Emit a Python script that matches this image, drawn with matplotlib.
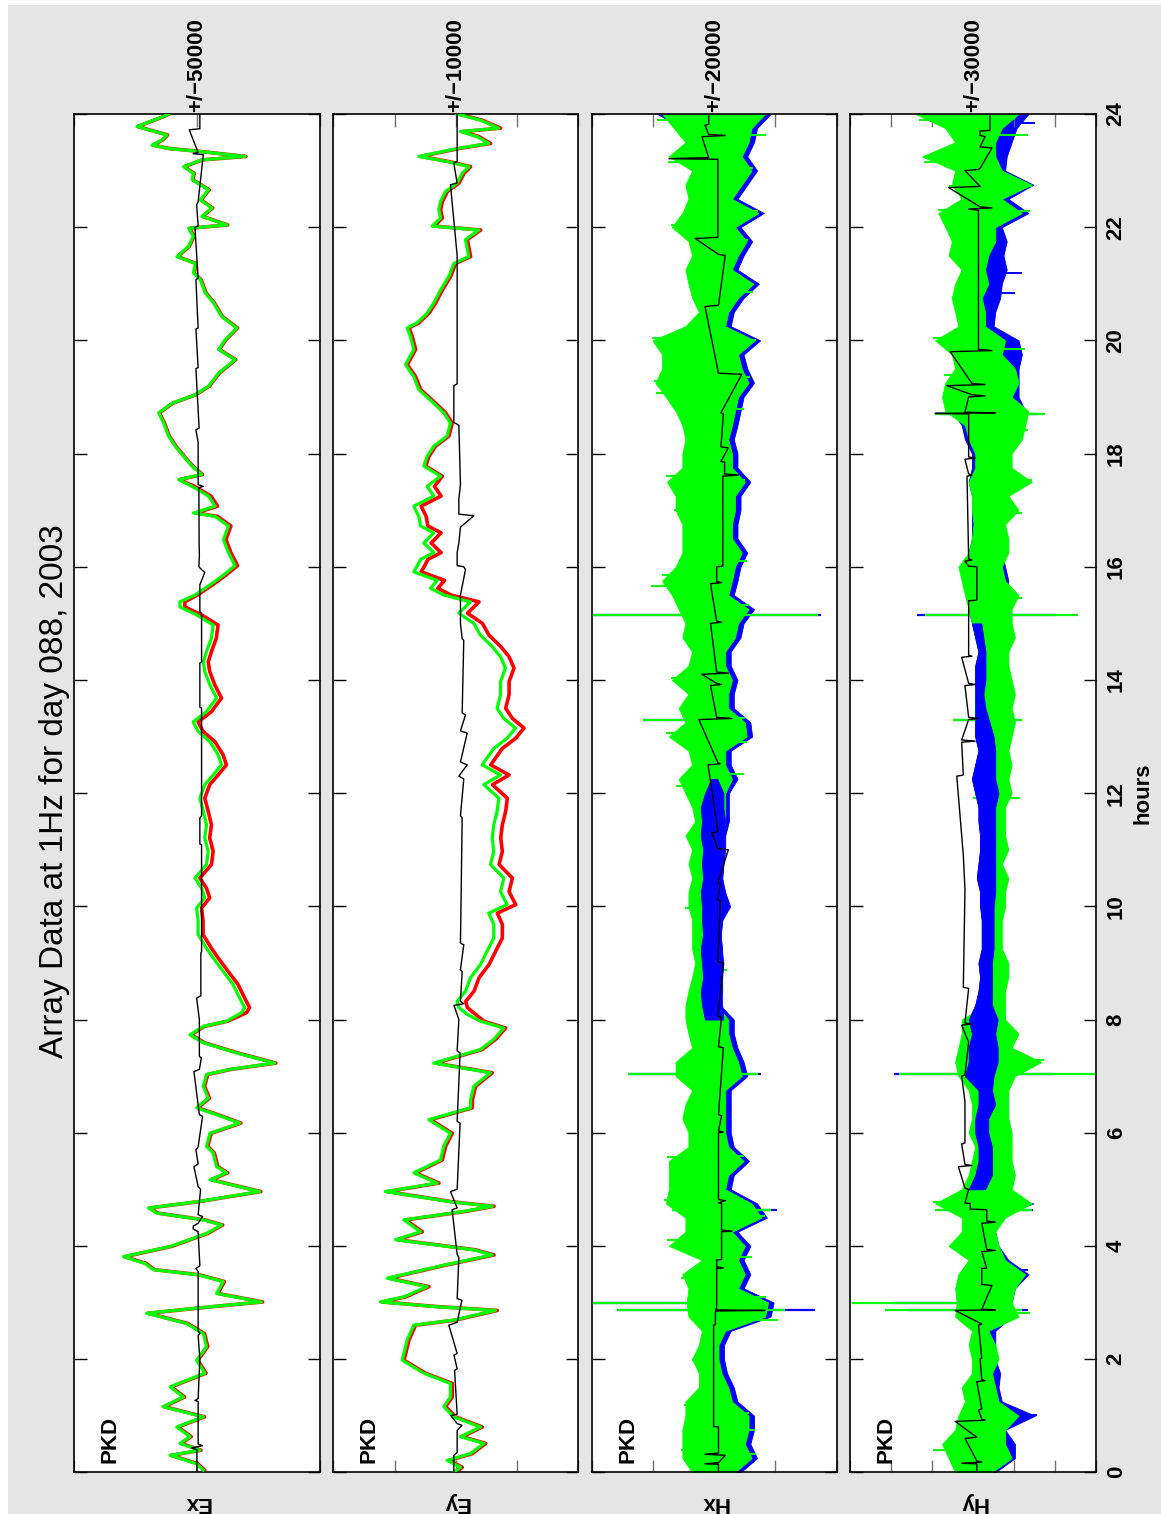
import numpy as np
import matplotlib
matplotlib.use("Agg")
import matplotlib.pyplot as plt
from matplotlib.patches import Rectangle

plt.rcParams["font.family"] = ["Liberation Sans", "DejaVu Sans"]

W, H = 1161, 1514

# ---------------- Ex (red / green traces, black reference) ----------------
ex_hours = [0.04, 0.15, 0.3, 0.39, 0.51, 0.63, 0.8, 0.98, 1.16, 1.33, 1.51, 1.75, 1.98, 2.22,
            2.45, 2.63, 2.81, 2.93, 3.01, 3.16, 3.37, 3.49, 3.58, 3.69, 3.81, 3.99, 4.22, 4.37,
            4.46, 4.58, 4.67, 4.78, 4.96, 5.17, 5.29, 5.4, 5.64, 5.76, 5.99, 6.17, 6.32, 6.44,
            6.61, 6.82, 7.03, 7.12, 7.23, 7.41, 7.59, 7.73, 7.88, 7.97, 8.12, 8.21, 8.38, 8.62,
            8.85, 9.09, 9.26, 9.5, 9.74, 9.97, 10.15, 10.32, 10.5, 10.74, 10.97, 11.21, 11.44,
            11.68, 11.91, 12.15, 12.32, 12.5, 12.68, 12.91, 13.09, 13.26, 13.44, 13.68, 13.91,
            14.15, 14.32, 14.5, 14.74, 14.97, 15.15, 15.29, 15.38, 15.5, 15.68, 15.85, 16.02,
            16.25, 16.48, 16.72, 16.89, 16.95, 17.07, 17.25, 17.42, 17.54, 17.63, 17.78, 17.95,
            18.13, 18.31, 18.54, 18.72, 18.89, 19.04, 19.19, 19.42, 19.66, 19.84, 20.01, 20.22,
            20.42, 20.66, 20.84, 21.07, 21.19, 21.36, 21.48, 21.66, 21.84, 21.98, 22.04, 22.19,
            22.34, 22.48, 22.66, 22.84, 22.95, 23.07, 23.19, 23.25, 23.34, 23.39, 23.45, 23.54,
            23.63, 23.72, 23.78, 23.95, 24.0]
ex_green = [-2600, 100, 10900, -1200, 6900, 2800, 8200, -2600, 13800, 5500, 10900, -3200, 100, -3900,
            -2600, 4200, 20400, -6600, -26200, -8000, -10700, -500, 17700, 21100, 29800, 10900, -3900, -10000,
            -2600, 16300, 19700, 100, -25500, -5300, -12000, -8000, -6600, -3900, -5300, -17400, -8000, 100,
            -4600, -2600, -3900, -13400, -31600, -16100, -2600, 2800, -2600, -12000, -18100, -19400, -17400, -14700,
            -10700, -6600, -3900, -500, -500, 100, -3200, -1900, 800, -3900, -4600, -3200, -3900,
            -2600, -1200, -3200, -6600, -10000, -8600, -5300, -500, 1500, -3900, -8000, -5300,
            -3200, -2600, -3900, -5900, -6600, 100, 6900, 6900, 800, -5300, -10700, -15500,
            -12800, -10800, -12800, -7400, 1400, -7400, -4700, 2000, 7400, -2000, 2000, 5400,
            8800, 11500, 13500, 15500, 10100, 700, -4700, -8800, -15500, -8800, -11500, -16200,
            -10100, -6800, -3400, -1400, 1400, 700, 8100, 3400, 1400, 3400, -12200, -2000,
            -6100, -1400, -4700, 2000, 1400, 5400, -2000, -19600, -700, 11500, 18200, 14200,
            12200, 19600, 24300, 14000, 11500]
ex_red = [-3100, -400, 10400, -1700, 6400, 2300, 7700, -3100, 13300, 5000, 10400, -3700, -400, -4400,
          -3100, 3700, 19900, -7100, -26700, -8500, -11200, -1000, 17200, 20600, 29300, 10400, -4400, -10500,
          -3100, 15800, 19200, -400, -26000, -5800, -12500, -8500, -7100, -4400, -5800, -17900, -8500, -400,
          -5100, -3100, -4400, -13900, -32100, -16600, -3100, 2300, -3100, -12500, -20100, -21400, -19400, -16700,
          -12700, -8600, -5900, -2500, -2500, -1900, -5200, -3900, -1200, -5900, -6600, -5200, -5900,
          -4600, -3200, -5200, -8600, -12000, -10600, -7300, -2500, -500, -5900, -10000, -7300,
          -5200, -4600, -5900, -7900, -8600, -1900, 4900, 4900, -200, -6300, -11700, -16500,
          -13800, -11800, -13800, -8400, 400, -8400, -5700, 1000, 7100, -2300, 1700, 5100,
          8500, 11200, 13200, 15200, 9800, 400, -5000, -9100, -15800, -9100, -11800, -16500,
          -10400, -7100, -3700, -1700, 1100, 400, 7800, 3100, 1100, 3100, -12500, -2300,
          -6400, -1700, -5000, 1700, 1100, 5100, -2300, -19900, -1000, 11200, 17900, 13900,
          11900, 19300, 24000, 13700, 11200]
ex_black_hours = [0.0, 0.4, 0.43, 0.47, 0.5, 1.25, 1.27, 1.3, 2.0, 2.42, 2.45, 2.5, 3.55, 3.6, 3.65,
                  4.25, 4.3, 4.35, 4.4, 4.52, 4.55, 5.0, 5.05, 5.4, 5.45, 5.7, 5.75, 6.29, 6.32,
                  7.08, 7.12, 7.32, 7.35, 8.0, 8.38, 8.42, 9.18, 9.2, 11.09, 11.1, 11.56, 11.6,
                  13.5, 13.52, 14.3, 14.32, 15.18, 15.2, 15.68, 15.9, 15.95, 16.0, 16.2, 16.42,
                  17.4, 17.42, 17.45, 18.2, 18.42, 18.45, 19.5, 19.52, 20.2, 20.22, 21.07, 21.1,
                  22.0, 22.02, 22.4, 22.45, 23.28, 23.3, 23.32, 23.72, 23.74, 24.0]
ex_black = [0, 0, 2200, -2300, -500, -500, 800, -500, -1200, -500, -1200, -500, -500, 400, -1200,
            -500, 1500, 1500, -500, -2300, -500, -1500, -500, 1200, -500, 400, -500, -2300, -1000,
            1200, -1000, -1800, -1000, -1000, 100, -1600, -1600, -1900, -1900, -1200, -1200, -1900,
            -1900, -1200, -1200, -1900, -1900, -1200, -1200, -3200, -1900, -800, -1000, -900,
            -800, -2600, -500, -500, 400, -900, 400, -500, 400, -500, 400, -500,
            800, -500, 100, -500, -2600, 1500, -500, 3100, -1200, -1200]

# ---------------- Ey ----------------
ey_hours = [0.0, 0.09, 0.21, 0.33, 0.51, 0.63, 0.8, 0.98, 1.16, 1.33, 1.57, 1.75, 1.98, 2.1, 2.34,
            2.6, 2.69, 2.86, 2.93, 3.01, 3.1, 3.28, 3.43, 3.66, 3.84, 3.93, 4.11, 4.25, 4.46, 4.61,
            4.7, 4.78, 4.96, 5.11, 5.29, 5.52, 5.76, 5.99, 6.23, 6.44, 6.58, 6.82, 7.06, 7.23, 7.47,
            7.65, 7.85, 7.97, 8.09, 8.21, 8.32, 8.5, 8.74, 8.97, 9.21, 9.44, 9.68, 9.88, 10.03,
            10.26, 10.5, 10.74, 10.97, 11.21, 11.44, 11.68, 11.91, 12.15, 12.32, 12.5, 12.79,
            12.97, 13.15, 13.32, 13.5, 13.74, 13.97, 14.21, 14.41, 14.59, 14.79, 15.0, 15.18,
            15.38, 15.5, 15.62, 15.76, 15.91, 16.01, 16.13, 16.25, 16.42, 16.6, 16.72, 16.89,
            17.07, 17.25, 17.42, 17.6, 17.78, 17.95, 18.13, 18.31, 18.54, 18.72, 18.89, 19.13,
            19.36, 19.57, 19.84, 20.07, 20.22, 20.31, 20.48, 20.66, 20.89, 21.13, 21.36, 21.48,
            21.78, 21.95, 22.02, 22.16, 22.31, 22.45, 22.63, 22.78, 22.95, 23.07, 23.16, 23.25,
            23.39, 23.48, 23.6, 23.69, 23.75, 23.89, 24.0]
ey_green = [160, -380, 710, -1200, -2290, -380, -2010, 160, 980, 440, 440, 2610, 4380, 4240, 3970,
            3430, 160, -3240, 1800, 6150, 4240, 2340, 5600, 980, -2970, -1470, 4920, 2880, 4240, -650,
            -2970, 440, 5740, 1520, 3430, 1250, 980, 440, 2200, -1200, -1200, -1470, -2830, 1800, -2010,
            -3100, -3920, -2010, -930, -250, -110, -790, -1200, -2010, -2560, -3100, -3100, -2690, -4190,
            -3650, -3920, -2830, -3100, -2970, -3100, -3370, -3510, -2290, -3650, -2150, -3100,
            -4190, -4870, -3920, -3370, -3650, -3650, -4050, -3650, -2970, -2010, -1470, -250,
            -1200, 980, 2070, 1520, 3430, 3160, 2880, 1800, 2610, 1800, 2880, 3020,
            3430, 1800, 2340, 1250, 2610, 2340, 1800, 710, 440, 980, 1800, 3020,
            3430, 4110, 3430, 3700, 3970, 3160, 2340, 1800, 1250, 570, 160, -1060,
            -790, -1880, 1930, 1250, 1390, 1250, 840, -110, -520, -1060, 710, 3020,
            -110, -2690, -1740, -380, -3510, -2010, -110]
ey_red = [10, -530, 560, -1350, -2440, -530, -2160, 10, 830, 290, 290, 2460, 4230, 4090, 3820,
          3280, 10, -3390, 1650, 6000, 4090, 2190, 5450, 830, -3120, -1620, 4770, 2730, 4090, -800,
          -3120, 290, 5590, 1370, 3280, 1100, 830, 290, 2050, -1350, -1350, -1620, -2980, 1650, -2160,
          -3250, -4070, -2300, -1630, -950, -810, -1490, -1900, -2710, -3260, -3800, -3800, -3390, -4890,
          -4350, -4620, -3530, -3800, -3670, -3800, -4070, -4210, -2990, -4350, -2850, -3800,
          -4890, -5570, -4620, -4070, -4350, -4350, -4750, -4350, -3670, -2710, -2170, -950,
          -1900, 380, 1470, 920, 2830, 2560, 2280, 1200, 2010, 1200, 2280, 2420,
          2830, 1200, 1740, 1100, 2460, 2190, 1650, 560, 290, 830, 1650, 2870,
          3280, 3960, 3280, 3550, 3820, 3010, 2190, 1650, 1100, 420, 10, -1210,
          -940, -2030, 1780, 1100, 1240, 1100, 690, -260, -670, -1210, 560, 2870,
          -260, -2840, -1890, -530, -3660, -2160, -260]
ey_black_hours = [0.0, 0.3, 0.35, 0.74, 0.83, 0.86, 1.0, 1.03, 1.8, 1.83, 2.07, 2.1, 2.6, 2.65,
                  3.04, 3.07, 3.8, 3.85, 4.64, 4.67, 4.96, 5.0, 6.17, 6.2, 7.41, 7.45, 8.0, 8.25,
                  8.28, 8.32, 8.85, 8.88, 9.32, 9.35, 11.56, 11.6, 12.25, 12.3, 12.5, 12.55, 13.06,
                  13.1, 13.38, 13.42, 14.7, 14.73, 15.0, 15.5, 15.95, 16.0, 16.02, 16.25, 16.42,
                  16.7, 16.9, 16.93, 17.2, 17.45, 18.5, 18.55, 19.2, 19.23, 21.5, 22.75, 22.78,
                  23.13, 23.16, 24.0]
ey_black = [160, 160, -110, -110, -500, -110, 400, -110, 100, -110, 150, -110, 570, -110,
            -500, -110, -250, -110, 300, -110, 435, -110, -350, -110, -350, -110, -250, 150,
            -650, -380, -520, -380, -650, -380, -520, -380, -650, -250, -930, -380, -930,
            -380, -790, -520, -650, -520, -380, -380, -790, -650, -110, -110, -250,
            -380, -1470, -250, -250, -380, -250, 160, 160, -110, -110, 435, -110,
            160, -110, -110]

# ---------------- Hx / Hy (noisy bands: green over blue, black reference) ----------------
h_hours = np.arange(0, 24.01, 0.25)

hx_green_max = [3600, 5200, 5200, 5200, 4700, 4700, 2500, 2500, 3600, 2500, 2000, 4200,   # 0-2.75
                4500, 4200, 5200, 2000, 7400, 4700, 4700, 7900, 7400, 7400, 7400, 4200,   # 3-5.75
                4200, 5200, 4700, 3600, 6300, 6300, 3600, 4200, 4700, 4700, 4200, 3600,   # 6-8.75
                3100, 3600, 3600, 3600, 4200, 4200, 3600, 4200, 3600, 4700, 3100, 3600,   # 9-11.75
                4700, 5800, 3600, 4200, 7400, 4700, 5800, 4200, 6900, 4200, 3600, 5200,   # 12-14.75
                4700, 5800, 6900, 8500, 6300, 5200, 5200, 5200, 6300, 6300, 7700, 5200,   # 15-17.75
                5200, 4700, 5200, 6300, 7900, 9600, 8500, 8500, 10100, 4700, 2500, 3600,  # 18-20.75
                4200, 4700, 3600, 4200, 6900, 5200, 4200, 4700, 3600, 7400, 4700, 6600,   # 21-23.75
                8500]
hx_green_min = [-3400, -6100, -5000, -5600, -5600, -2900, -2300, -1200, -700, -700, -1800, -8300,
                -8800, -3900, -5000, -3900, -5000, -2900, -7700, -6100, -1800, -2300, -4800, -2300,
                -1800, -1800, -1800, -1800, -4500, -3900, -2900, -2300, -2300, -400, -700, -700,
                -700, -700, -400, -700, -700, -1200, -700, -700, -1200, -1200, -1800, -1800,
                -1800, -2900, -1800, -1800, -5300, -5000, -2300, -2300, -2900, -1800, -1800, -3400,
                -3900, -5600, -2300, -2900, -3400, -4500, -2900, -2900, -3400, -3400, -5000, -2900,
                -2900, -2300, -2900, -3400, -3900, -5600, -4500, -3900, -6600, -1800, -2300, -3900,
                -6400, -2900, -3900, -5300, -3400, -7200, -2900, -4500, -6100, -4500, -5600, -6100,
                -8300]
hx_blue_max = [2100, 3700, 3700, 3700, 3200, 3200, 1000, 1000, 2100, 1000, 500, 2700,
               3000, 2700, 3700, 500, 5900, 3200, 3200, 6400, 5900, 5900, 5900, 2700,
               2700, 3700, 3200, 2100, 4800, 4800, 2100, 2700, 3200, 2000, 2200, 1800,
               2000, 2200, 1800, 2000, 2000, 2200, 1800, 2000, 1800, 2200, 2000, 2200,
               2500, 4300, 2100, 2700, 5900, 3200, 4300, 2700, 5400, 2700, 2100, 3700,
               3200, 4300, 5400, 7000, 4800, 3700, 3700, 3700, 4800, 4800, 6200, 3700,
               3700, 3200, 3700, 4800, 6400, 8100, 7000, 7000, 8600, 3200, 1000, 2100,
               2700, 3200, 2100, 2700, 5400, 3700, 2700, 3200, 2100, 5900, 3200, 5100,
               9300]
hx_blue_min = [-4300, -7000, -5900, -6500, -6500, -3800, -3200, -2100, -1600, -1600, -2700, -9200,
               -9700, -4800, -5900, -4800, -5900, -3800, -8600, -7000, -2700, -3200, -5700, -3200,
               -2700, -2700, -2700, -2700, -5400, -4800, -3800, -3200, -3200, -1000, -1300, -1300,
               -1300, -1300, -1000, -1300, -2600, -1800, -1300, -1500, -1800, -1800, -2400, -2400,
               -2400, -3800, -2700, -2700, -6200, -5900, -3200, -3200, -3800, -2700, -2700, -4300,
               -4800, -6500, -3200, -3800, -4300, -5400, -3800, -3800, -4300, -4300, -5900, -3800,
               -3800, -3200, -3800, -4300, -4800, -6500, -5400, -4800, -7500, -2700, -3200, -4800,
               -7300, -3800, -4800, -6200, -4300, -8100, -3800, -5400, -7000, -5400, -6500, -7000,
               -9200]
# dense blue core showing through the green noise
hx_core_hours = [8.0, 8.25, 8.5, 8.75, 9.0, 9.25, 9.5, 9.75, 10.0, 10.25, 10.5, 10.75, 11.0,
                 11.25, 11.5, 11.75, 12.0, 12.25]
hx_core_max = [1500, 2000, 2200, 1800, 2000, 2200, 1800, 2000, 2000, 2200, 1800, 2000, 1800,
               2200, 2000, 2200, 1500, 500]
hx_core_min = [-1500, -1300, -1200, -1300, -1500, -1200, -1100, -1300, -1800, -1400, -1300, -1500,
               -1700, -1300, -1800, -1500, -1500, -500]
# single long excursions (hairs) sticking out of the band
hx_hair_hours = [23.89, 23.63, 23.31, 23.16, 23.04, 22.28, 22.04, 21.78, 20.85, 20.04, 20.01,
                 19.72, 19.36, 19.28, 19.07, 18.78, 17.6, 17.54, 17.01, 16.1, 15.85, 15.66,
                 15.32, 14.03, 13.32, 13.06, 12.91, 12.34, 12.12, 9.97, 8.88, 5.58, 5.57, 4.81,
                 4.52, 4.1, 3.81, 3.43, 3.1, 2.69, 1.98, 1.19, 1.04, 0.74, 0.39, 0.33]
hx_hair_tip = [9300, -8500, 6300, 7500, -6400, -7200, 7000, -5500, -6400, 10200, -6900,
               8200, -5800, 9800, 9500, -4800, 7800, -5000, 6600, -5300, 8500, 10400,
               -5600, 7000, -5000, 7900, -5300, -4900, 6300, 4700, -2100, -4800, 7700, 8200,
               -8300, 7700, -6100, 5500, -8500, -10400, 3600, 5000, -5600, -6600, 5500, -6900]
hx_spike_hours = [2.86, 3.0, 4.64, 7.04, 13.29, 15.15]
hx_spike_max = [15800, 19800, 6900, 14100, 11600, 19800]
hx_spike_min = [-11500, -8800, -9300, -7200, -4500, -16900]
hx_spike_blue_min = [-16400, -9300, -10200, -7700, -5000, -17400]
hx_black_hours = [0.0, 0.14, 0.15, 0.17, 0.3, 0.32, 0.34, 0.8, 0.81, 2.6, 2.61, 2.85, 2.86, 2.87,
                  2.9, 3.6, 3.61, 3.63, 3.75, 3.76, 4.25, 4.26, 4.28, 4.75, 4.76, 4.8, 4.82, 6.0,
                  6.01, 6.03, 6.3, 6.32, 7.5, 7.52, 8.04, 8.06, 9.0, 9.02, 10.1, 10.12, 10.4,
                  10.42, 11.0, 11.02, 11.3, 11.32, 12.5, 12.52, 12.54, 13.3, 13.32, 13.34, 13.9,
                  13.92, 13.94, 14.1, 14.12, 14.14, 15.0, 15.02, 15.04, 15.7, 15.72, 15.74, 16.0,
                  16.01, 17.6, 17.62, 17.64, 17.85, 17.86, 18.1, 18.12, 18.7, 18.72, 19.4, 19.42,
                  20.6, 20.62, 21.5, 21.52, 21.8, 21.82, 23.2, 23.21, 23.23, 23.6, 23.62, 23.64,
                  23.8, 23.82, 24.0]
hx_black = [-700, -700, 1500, -700, -1800, 1500, -700, -700, 100, 100, -200, -200, -8300, -200,
            -400, -400, -1500, -400, -400, -1200, -1200, -2900, -1200, -1200, -700, -1800, -700, -700,
            -1500, -700, -1200, -700, -1500, -700, -1200, -600, -1500, -600, -1000, -600, -1000,
            -600, -2300, -600, 400, -600, 1000, -1000, -600, 2500, -2900, -400, 600,
            -1200, -400, 2000, -2300, -400, 600, -1200, -400, 600, -1200, -400, -400,
            -1400, -1400, -4000, -1700, -1700, -1100, -2300, -1100, -1500, -1100, -4500, -700,
            1500, -700, -1800, -700, 3100, -600, -600, 7400, 900, 2000, -1800, 900,
            1500, 900, 900]

hy_green_max = [4400, 6000, 7600, 4400, 3600, 2000, 2800, 300, 300, 1100, 300, 4400,
                4000, 4400, 3600, 1100, 6000, 2800, 2800, 9300, 2800, 1100, 300, -500,
                1100, 300, 300, 1100, 3600, 4400, 3600, 2800, 2800, -2900, -2900, -3700,
                -2900, -3700, -3700, -3700, -2900, -2900, -3700, -2900, -2900, -3700, -3700, -3700,
                -2900, -2100, -2100, -1300, -1300, -500, -500, -500, -500, -1700, -1300, -500,
                300, 1100, 2000, 2800, 3600, 1100, 300, -100, 300, 300, 1100, -500,
                -500, 1100, 2000, 6800, 7600, 6800, 4400, 5200, 9300, 3600, 4400, 5200,
                4400, 2800, 6000, 5200, 6800, 8500, 2800, 5200, 4400, 12500, 4400, 6800,
                14100]
hy_green_min = [-4600, -9400, -7800, -7800, -11100, -6200, -5400, -4600, -6200, -5400, -3700, -11100,
                -9400, -10200, -12700, -7800, -6200, -5400, -7800, -14300, -9400, -10200, -9400, -9400,
                -9400, -8600, -8600, -8600, -10200, -16700, -9400, -11100, -7800, -7800, -7800, -8600,
                -8600, -7000, -7000, -7000, -7800, -7800, -8600, -7000, -8600, -7800, -7800, -7800,
                -9400, -8600, -9400, -8600, -9400, -10200, -9400, -10200, -9400, -8600, -8600, -10200,
                -9400, -9400, -11100, -7800, -7000, -8600, -8600, -7800, -11100, -8600, -14300, -9400,
                -9400, -11900, -12700, -13500, -9400, -11100, -10200, -7000, -7800, -2900, -2900, -2100,
                -3700, -2900, -3700, -5400, -5400, -11900, -7000, -14300, -7000, -5400, -5400, -7000,
                -11100]
hy_blue_max = [3600, 3600, 5200, 3600, 2800, -500, -1300, -2900, -1300, -500, -2100, -2900,
               -2900, -2900, -2900, -2900, 2000, -500, -500, 1100, 1100, -500, -1300, -1300,
               -500, -500, -1300, -1300, 2000, 1100, 1100, 300, 1100, -500, -1300, -1700,
               -1300, -2100, -2100, -2100, -1700, -1700, -900, -1300, -1700, -1700, -1300, -1300,
               -500, 300, -500, -1300, -500, -500, -500, -500, -500, -500, -1300, -500,
               300, 1100, 1100, 2000, 2000, 1100, 300, 300, 300, 300, 1100, 300,
               300, 2000, 2800, 5200, 6000, 5200, 3600, 3600, 6800, 2800, 3600, 3600,
               3600, 2800, 4400, 3600, 5200, 6800, 2800, 4400, 3600, 8500, 3600, 4400,
               10900]
hy_blue_min = [-5400, -10200, -10200, -7800, -15100, -7000, -6200, -6600, -5400, -5400, -5400, -9400,
               -9400, -10200, -13500, -8600, -6200, -5400, -5400, -14700, -2900, -4600, -4600, -4600,
               -3700, -3700, -5400, -4600, -7000, -11100, -7800, -5400, -7000, -4600, -4600, -4600,
               -4600, -5000, -5000, -5000, -5000, -5400, -5400, -5400, -5400, -5400, -5400, -5400,
               -6200, -5400, -5400, -5400, -6200, -6200, -4600, -3700, -4600, -4600, -4600, -4600,
               -4600, -6200, -7800, -8600, -7800, -7000, -7000, -7000, -8600, -7800, -9400, -7800,
               -7000, -9400, -11100, -12700, -11100, -11100, -11100, -11900, -11100, -5000, -5400, -6600,
               -7000, -8200, -7400, -8200, -7000, -13500, -8600, -14700, -7800, -8200, -9400, -10600,
               -13500]
hy_core_hours = [5.0, 5.25, 5.5, 5.75, 6.0, 6.25, 6.5, 6.75, 7.0, 7.25, 7.5, 7.75, 8.0, 8.25,
                 8.5, 8.75, 9.0, 9.25, 9.5, 9.75, 10.0, 10.25, 10.5, 10.75, 11.0, 11.25, 11.5,
                 11.75, 12.0, 12.25, 12.5, 12.75, 13.0, 13.25, 13.5, 13.75, 14.0, 14.25, 14.5,
                 14.75, 15.0]
hy_core_max = [1100, -500, -1300, -1300, -500, -500, -1300, -1300, 2000, 1100, 1100, 300, 1100,
               -500, -1300, -1700, -1300, -2100, -2100, -2100, -1700, -1700, -900, -1300, -1700,
               -1700, -1300, -1300, -500, 300, -500, -1300, -500, -500, -500, -500, -500, -500,
               -1300, -500, 300]
hy_core_min = [-2900, -4600, -4600, -4600, -3700, -3700, -5400, -4600, -5000, -6000, -6000, -5400,
               -6000, -4600, -4600, -4600, -4600, -5000, -5000, -5000, -5000, -5400, -5400, -5400,
               -5400, -5400, -5400, -5400, -6200, -5400, -5400, -5400, -5000, -4000, -3000, -2500,
               -3000, -3000, -3000, -2500, -2000]
hy_hair_hours = [23.89, 23.63, 23.16, 22.72, 22.72, 22.31, 22.28, 20.04, 19.84, 19.39, 19.19,
                 18.42, 17.54, 16.95, 15.44, 11.91, 7.29, 4.78, 2.81, 0.39]
hy_hair_tip = [13300, -13500, 12100, -14300, 6000, 8500, -13900, 9700, -12700, 7200, 6400,
               -13500, -14300, -11900, -11900, -11500, -17200, 9700, -13900, 9700]
hy_blue_hair_hours = [23.84, 21.19, 20.84, 3.58, 1.01]
hy_blue_hair_tip = [-15100, -11900, -10200, -13500, -15500]
hy_spike_hours = [2.86, 3.0, 4.64, 7.04, 13.29, 15.15, 18.7]
hy_spike_max = [21500, 29600, 9300, 18200, 4800, 11700, 9300]
hy_spike_min = [-12000, -9400, -14300, -29800, -11900, -25700, -17600]
hy_spike_blue_max = [16000, 20000, 5000, 19400, 4800, 13700, 8000]
hy_spike_blue_min = [-13500, -9400, -14700, -20000, -11000, -20000, -16000]
hy_black_hours = [0.0, 0.15, 0.16, 0.18, 0.2, 0.6, 0.62, 0.9, 0.92, 0.94, 1.1, 1.12, 1.6, 1.62,
                  1.64, 2.0, 2.02, 2.6, 2.62, 2.86, 2.87, 2.88, 3.3, 3.32, 3.6, 3.61, 3.9, 3.92,
                  3.94, 4.4, 4.42, 4.44, 4.64, 4.65, 4.75, 4.76, 5.0, 5.02, 5.4, 5.42, 5.44, 5.8,
                  5.82, 6.55, 7.0, 7.02, 7.6, 7.9, 7.92, 7.94, 8.55, 8.57, 10.3, 10.9, 12.3, 12.32,
                  12.9, 12.92, 12.94, 13.3, 13.32, 13.34, 13.9, 13.92, 13.94, 14.4, 14.42, 14.44,
                  15.4, 15.41, 16.0, 16.01, 16.1, 16.12, 16.14, 17.6, 17.62, 17.64, 17.9, 17.92,
                  17.94, 18.7, 18.71, 18.72, 18.73, 19.0, 19.02, 19.04, 19.2, 19.22, 19.24, 19.8,
                  19.82, 19.84, 22.3, 22.32, 22.34, 22.36, 22.7, 22.72, 23.0, 23.02, 23.04, 23.4,
                  23.42, 23.6, 23.62, 23.7, 23.71, 24.0]
hy_black = [-900, -900, 2800, -2100, -900, 2000, -900, 4400, -2900, -2100, -1300, -2100, -900, -2900,
            -2100, -1700, -2100, -1300, -2100, 4400, -5400, -2100, -4600, -2100, -2100, -3300, -2100, -5400,
            -3300, -2100, -5400, -3300, -3300, 700, 700, 2000, 1100, 2000, 3600, 300, 2000, 2800,
            2000, 2000, 2800, 2000, 1100, 2800, 300, 2000, 1100, 2400, 2000, 2400, 4000, 2400,
            2800, -500, 2800, 1100, -1300, 1100, 2000, -500, 1100, 2800, 300, 1100,
            1100, -900, -900, 1100, 2000, 300, 1100, 1500, 300, 1100, 2000, -500,
            1100, 1100, 9300, -5400, 2000, 1100, -2900, 300, 6400, -2900, 300, 5600,
            -4600, -1300, -1300, 1100, -4600, -1700, 6000, -1700, 2000, -1300, -1700, -4600,
            -1700, -2900, -1700, -1700, -4100, -4100]

hour_ticks = list(range(0, 25, 2))
GREEN, RED, BLUE = "#00ff00", "#ff0000", "#0000ff"

fig = plt.figure(figsize=(W / 100, H / 100), dpi=100, facecolor="white")
fig.patches.append(Rectangle((8 / W, 0), 1 - 8 / W, 1 - 5 / H, transform=fig.transFigure,
                             facecolor="#e5e5e5", edgecolor="none", zorder=-10))

top_px, bot_px = 114.0, 1472.3


def make_axes(x0, x1):
    return fig.add_axes([x0 / W, (H - bot_px) / H, (x1 - x0) / W, (bot_px - top_px) / H])


def setup_panel(ax, rng, vticks, name):
    ax.set_xlim(rng, -rng)
    ax.set_ylim(0, 24)
    ax.set_xticks(vticks)
    ax.set_yticks(hour_ticks)
    ax.tick_params(axis="y", direction="in", length=9, width=1.0, color="black",
                   left=True, right=True, labelleft=False, labelright=False)
    ax.tick_params(axis="x", direction="in", length=9, width=1.0, color="#707070",
                   top=True, bottom=True, labelbottom=False, labeltop=False)
    for s in ax.spines.values():
        s.set_linewidth(1.2)
    ax.text(0.147, 0.007, "PKD", transform=ax.transAxes, rotation=90, ha="center",
            va="bottom", fontsize=16, fontweight="bold")
    ax.text(0.5, 1.0015, "+/\u2212%d" % rng, transform=ax.transAxes, rotation=90,
            ha="center", va="bottom", fontsize=16, fontweight="bold")
    ax.text(0.5, -0.022, name, transform=ax.transAxes, rotation=180, ha="center",
            va="center", fontsize=16, fontweight="bold")


ax_ex = make_axes(73.8, 320.0)
ax_ey = make_axes(333.3, 578.3)
ax_hx = make_axes(591.7, 836.7)
ax_hy = make_axes(850.3, 1096.0)

# E fields
for ax, hrs, red, green, bh, blk in [
        (ax_ex, ex_hours, ex_red, ex_green, ex_black_hours, ex_black),
        (ax_ey, ey_hours, ey_red, ey_green, ey_black_hours, ey_black)]:
    ax.plot(red, hrs, color=RED, lw=2.6, zorder=2)
    ax.plot(green, hrs, color=GREEN, lw=2.3, zorder=3)
    ax.plot(blk, bh, color="black", lw=1.0, zorder=4)

setup_panel(ax_ex, 50000, [-50000, 0, 50000], "Ex")
setup_panel(ax_ey, 10000, [-10000, -5000, 0, 5000, 10000], "Ey")

# H fields
for ax, gmax, gmin, bmax, bmin, ch, cmax, cmin, sh, smax, smin, sbmax, sbmin, bh, blk in [
        (ax_hx, hx_green_max, hx_green_min, hx_blue_max, hx_blue_min,
         hx_core_hours, hx_core_max, hx_core_min,
         hx_spike_hours, hx_spike_max, hx_spike_min, hx_spike_max, hx_spike_blue_min,
         hx_black_hours, hx_black),
        (ax_hy, hy_green_max, hy_green_min, hy_blue_max, hy_blue_min,
         hy_core_hours, hy_core_max, hy_core_min,
         hy_spike_hours, hy_spike_max, hy_spike_min, hy_spike_blue_max, hy_spike_blue_min,
         hy_black_hours, hy_black)]:
    ax.fill_betweenx(h_hours, bmin, bmax, color=BLUE, lw=0.6, zorder=1)
    ax.hlines(sh, sbmin, sbmax, color=BLUE, lw=1.6, zorder=1)
    ax.fill_betweenx(h_hours, gmin, gmax, color=GREEN, lw=0.6, zorder=2)
    ax.hlines(sh, smin, smax, color=GREEN, lw=1.6, zorder=2)
    ax.fill_betweenx(ch, cmin, cmax, color=BLUE, lw=0.6, zorder=2.5)
    ax.plot(blk, bh, color="black", lw=1.0, zorder=4)

ax_hx.hlines(hx_hair_hours, 0, hx_hair_tip, color=GREEN, lw=1.4, zorder=2)
ax_hy.hlines(hy_blue_hair_hours, 0, hy_blue_hair_tip, color=BLUE, lw=1.4, zorder=1)
ax_hy.hlines(hy_hair_hours, 0, hy_hair_tip, color=GREEN, lw=1.4, zorder=2)

setup_panel(ax_hx, 20000, [-20000, -10000, 0, 10000, 20000], "Hx")
setup_panel(ax_hy, 30000, [-30000, -20000, -10000, 0, 10000, 20000, 30000], "Hy")

# hour labels on the right of the last panel
ytr = ax_hy.get_yaxis_transform()
for hr in hour_ticks:
    ax_hy.text(1.082, hr, str(hr), transform=ytr, rotation=90, ha="center", va="center",
               fontsize=16, fontweight="bold")
ax_hy.text(1.192, 12, "hours", transform=ytr, rotation=90, ha="center", va="center",
           fontsize=16, fontweight="bold")

fig.text(55 / W, 1 - 791 / H, "Array Data at 1Hz for day 088, 2003", rotation=90,
         ha="center", va="center", fontsize=24)

fig.savefig("out.png", dpi=100, facecolor=fig.get_facecolor())
